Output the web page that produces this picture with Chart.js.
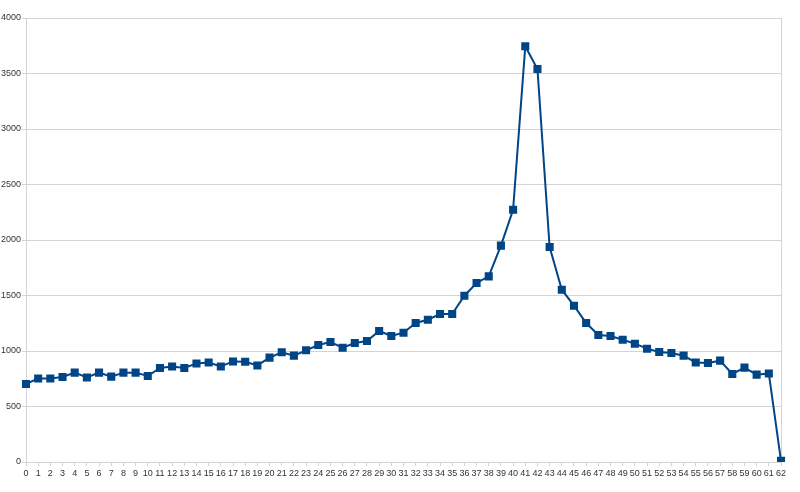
<!DOCTYPE html>
<html>
<head>
<meta charset="utf-8">
<script src="https://cdn.jsdelivr.net/npm/chart.js@4/dist/chart.umd.min.js"></script>
<style>
  html, body { margin: 0; padding: 0; background: #fff; }
  #wrap { width: 800px; height: 492px; }
</style>
</head>
<body>
<div id="wrap"><canvas id="mycanvas"></canvas></div>
<script>
// categories 0..62
var labels = [];
for (var i = 0; i <= 62; i++) labels.push(String(i));

var values = [
  703, 753, 753, 766, 805, 762, 805, 769, 805, 805,
  775, 847, 861, 847, 888, 897, 861, 906, 903, 870,
  940, 988, 958, 1006, 1054, 1081, 1030, 1072, 1090, 1180,
  1135, 1165, 1252, 1282, 1333, 1333, 1498, 1613, 1672, 1949,
  2273, 3745, 3541, 1937, 1552, 1408, 1252, 1144, 1135, 1102,
  1066, 1021, 991, 982, 958, 897, 892, 913, 793, 850,
  787, 798, 10
];

var yTicks = [0, 500, 1000, 1500, 2000, 2500, 3000, 3500, 4000];

var gridGray = '#d4d4d4';
var lineBlue = '#004586';

Chart.defaults.font.family = '"Liberation Sans", Arial, sans-serif';
Chart.defaults.font.size = 9;
Chart.defaults.color = '#333';

var ctx = document.getElementById('mycanvas');
var lineGraph = new Chart(ctx, {
    type: 'line',
    data: {
        labels: labels,
        datasets: [{
            data: values,
            borderColor: lineBlue,
            backgroundColor: lineBlue,
            borderWidth: 2,
            pointStyle: 'rect',
            pointRadius: 4.3,
            pointHoverRadius: 4.3,
            tension: 0,
            fill: false
        }]
    },
    options: {
        responsive: true,
        maintainAspectRatio: false,
        animation: false,
        layout: { padding: { top: 18, right: 19, left: 0, bottom: 0 } },
        plugins: { legend: { display: false }, tooltip: { enabled: false } },
        scales: {
            x: {
                offset: false,
                grid: {
                    color: function(c) { return c.index === labels.length - 1 ? gridGray : 'rgba(0,0,0,0)'; },
                    tickColor: gridGray,
                    tickLength: 4,
                    lineWidth: 1
                },
                border: { color: gridGray },
                ticks: { autoSkip: false, maxRotation: 0, padding: 2, color: '#333' },
                afterFit: function(s) { s.height = 30; }
            },
            y: {
                min: 0,
                max: 4000,
                afterBuildTicks: function(s) { s.ticks = yTicks.map(function(v) { return { value: v }; }); },
                grid: { color: gridGray, tickColor: gridGray, tickLength: 4, lineWidth: 1 },
                border: { color: gridGray },
                ticks: {
                    padding: 1,
                    color: '#333',
                    callback: function(v) { return String(v); }
                },
                afterFit: function(s) { s.width = 26; }
            }
        }
    }
});
</script>
</body>
</html>
